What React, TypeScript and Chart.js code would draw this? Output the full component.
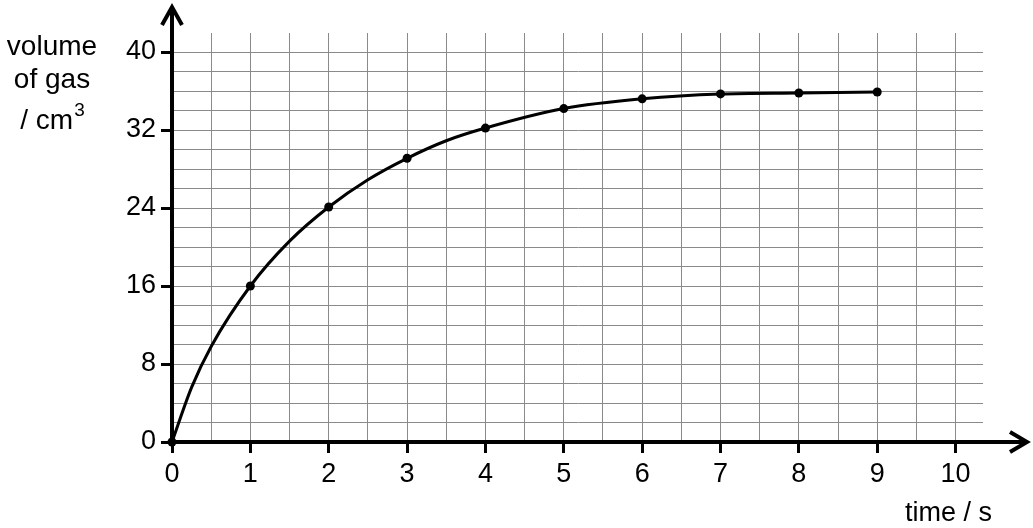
import React, { useEffect, useRef } from "react";
import { Chart, registerables } from "chart.js";

Chart.register(...registerables);

// ---- data ----
// measured points (dots)
const timeValues = [0, 1, 2, 3, 4, 5, 6, 7, 8, 9];
const volumeValues = [0, 16, 24.1, 29.1, 32.2, 34.2, 35.2, 35.7, 35.8, 35.9];
// best-fit curve
const curveTimes = [0, 0.25, 0.5, 1, 1.5, 2, 2.5, 3, 3.5, 4, 5, 6, 7, 8, 9];
const curveVolumes = [0, 5.6, 9.8, 16, 20.6, 24.1, 26.9, 29.1, 30.9, 32.2, 34.2, 35.2, 35.7, 35.8, 35.9];
const xLabelValues = [0, 1, 2, 3, 4, 5, 6, 7, 8, 9, 10];
const yLabelValues = [0, 8, 16, 24, 32, 40];
const yTitleLines = ["volume", "of gas", "/ cm"];
const yTitleSup = "3";
const xTitle = "time / s";

const FONT = '"Liberation Sans", Arial, sans-serif';
const GRID = "#8a8a8a";
const TICK_SIZE = 27;
const TITLE_SIZE = 28;

const decorPlugin = {
  id: "decor",
  afterDraw(chart: any) {
    const { ctx, chartArea, scales } = chart;
    const xs = scales.x;
    const ys = scales.y;
    const ox = xs.getPixelForValue(0);
    const oy = ys.getPixelForValue(0);
    ctx.save();
    ctx.strokeStyle = "#000";
    ctx.lineWidth = 4;
    ctx.lineCap = "butt";
    // y axis extension + arrow
    const tipY = chartArea.top - 26;
    ctx.beginPath();
    ctx.moveTo(ox, chartArea.top + 1);
    ctx.lineTo(ox, tipY + 1);
    ctx.stroke();
    ctx.beginPath();
    ctx.moveTo(ox - 10, tipY + 18);
    ctx.lineTo(ox, tipY);
    ctx.lineTo(ox + 10, tipY + 18);
    ctx.stroke();
    // x axis extension + arrow
    const tipX = chartArea.right + 44;
    ctx.beginPath();
    ctx.moveTo(chartArea.right - 1, oy);
    ctx.lineTo(tipX - 1, oy);
    ctx.stroke();
    ctx.beginPath();
    ctx.moveTo(tipX - 17, oy - 10);
    ctx.lineTo(tipX, oy);
    ctx.lineTo(tipX - 17, oy + 10);
    ctx.stroke();

    // titles
    ctx.fillStyle = "#000";
    ctx.font = `${TITLE_SIZE}px ${FONT}`;
    ctx.textAlign = "center";
    ctx.textBaseline = "alphabetic";
    const cx = 52;
    ctx.fillText(yTitleLines[0], cx, 55);
    ctx.fillText(yTitleLines[1], cx, 88);
    const w1 = ctx.measureText(yTitleLines[2]).width;
    ctx.font = `19px ${FONT}`;
    const w2 = ctx.measureText(yTitleSup).width;
    const sx = cx - (w1 + w2) / 2;
    ctx.textAlign = "left";
    ctx.font = `${TITLE_SIZE}px ${FONT}`;
    ctx.fillText(yTitleLines[2], sx, 129);
    ctx.font = `19px ${FONT}`;
    ctx.fillText(yTitleSup, sx + w1 + 1, 116);

    ctx.font = `${TICK_SIZE}px ${FONT}`;
    ctx.textAlign = "right";
    ctx.fillText(xTitle, chartArea.right + 9, 521);
    ctx.restore();
  },
};

export default function App() {
  const ref = useRef<HTMLCanvasElement | null>(null);
  useEffect(() => {
    if (!ref.current) return;
    const chart = new Chart(ref.current, {
      type: "line",
      data: {
        datasets: [
          {
            data: curveTimes.map((t, i) => ({ x: t, y: curveVolumes[i] })),
            borderColor: "#000",
            borderWidth: 3,
            pointRadius: 0,
            cubicInterpolationMode: "monotone",
            fill: false,
          },
          {
            data: timeValues.map((t, i) => ({ x: t, y: volumeValues[i] })),
            showLine: false,
            borderColor: "#000",
            backgroundColor: "#000",
            pointRadius: 4.5,
            pointBackgroundColor: "#000",
            pointBorderWidth: 0,
            clip: false as any,
          },
        ],
      },
      options: {
        responsive: false,
        animation: false,
        events: [],
        layout: { padding: { left: 0, top: 33, right: 50, bottom: 0 } },
        plugins: {
          legend: { display: false },
          tooltip: { enabled: false },
          title: { display: false },
        },
        scales: {
          x: {
            type: "linear",
            min: 0,
            max: 10.35,
            afterFit: (s: any) => {
              s.height = 86;
            },
            grid: {
              color: GRID,
              lineWidth: 1,
              drawTicks: true,
              tickLength: 11,
              tickWidth: 3,
              tickColor: (c: any) =>
                c.tick && xLabelValues.includes(c.tick.value) ? "#000" : "rgba(0,0,0,0)",
            },
            border: { display: true, color: "#000", width: 4 },
            ticks: {
              stepSize: 0.5,
              includeBounds: false,
              autoSkip: false,
              maxRotation: 0,
              padding: 5,
              color: "#000",
              font: { family: FONT, size: TICK_SIZE },
              callback: (v: any) => (xLabelValues.includes(Number(v)) ? String(v) : ""),
            },
          },
          y: {
            type: "linear",
            min: 0,
            max: 41.95,
            afterFit: (s: any) => {
              s.width = 172;
            },
            grid: {
              color: GRID,
              lineWidth: 1,
              drawTicks: true,
              tickLength: 11,
              tickWidth: 3,
              tickColor: (c: any) =>
                c.tick && yLabelValues.includes(c.tick.value) ? "#000" : "rgba(0,0,0,0)",
            },
            border: { display: true, color: "#000", width: 4 },
            ticks: {
              stepSize: 2,
              includeBounds: false,
              autoSkip: false,
              padding: 5,
              color: "#000",
              font: { family: FONT, size: TICK_SIZE },
              callback: (v: any) => (yLabelValues.includes(Number(v)) ? String(v) : ""),
            },
          },
        },
      },
      plugins: [decorPlugin],
    });
    return () => chart.destroy();
  }, []);
  return (
    <div style={{ position: "absolute", left: 0, top: 0, width: 1033, height: 528, background: "#fff" }}>
      <canvas ref={ref} width={1033} height={528} />
    </div>
  );
}
